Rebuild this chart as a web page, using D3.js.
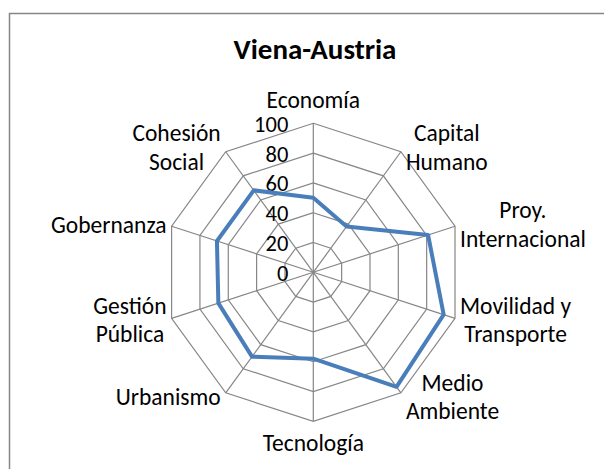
<!DOCTYPE html>
<html>
<head>
<meta charset="utf-8">
<script src="https://cdn.jsdelivr.net/npm/d3@7"></script>
<style>
  body { margin: 0; background: #fff; }
  svg text { font-family: Carlito, Calibri, Lato, sans-serif; fill: #000; }
</style>
</head>
<body>
<div id="chart"></div>
<script>
const title = "Viena-Austria";
const categories = [
  "Economía", "Capital\nHumano", "Proy.\nInternacional", "Movilidad y\nTransporte",
  "Medio\nAmbiente", "Tecnología", "Urbanismo", "Gestión\nPública",
  "Gobernanza", "Cohesión\nSocial"
];
const values = [50, 38, 81, 92, 95, 58, 70, 67, 68, 68];
const ticks = [0, 20, 40, 60, 80, 100];

const width = 604;
const height = 469;
const cx = 313.3;
const cy = 272.3;
const R = 149;
const lineH = 28.5;

const svg = d3
  .select("#chart")
  .append("svg")
  .attr("width", width)
  .attr("height", height);

// chart area border (right and bottom edges fall outside the picture)
svg
  .append("rect")
  .attr("x", 9.5)
  .attr("y", 13.5)
  .attr("width", 620)
  .attr("height", 480)
  .attr("fill", "#fff")
  .attr("stroke", "#868686")
  .attr("stroke-width", 1.5);

svg
  .append("text")
  .attr("x", 315)
  .attr("y", 49)
  .attr("text-anchor", "middle")
  .attr("dominant-baseline", "central")
  .style("font-size", "29px")
  .style("font-weight", "bold")
  .text(title);

const r = d3.scaleLinear().domain([0, 100]).range([0, R]);
const angle = d3
  .scaleLinear()
  .domain([0, categories.length])
  .range([0, 2 * Math.PI]);

const point = (i, v) => [
  cx + r(v) * Math.sin(angle(i)),
  cy - r(v) * Math.cos(angle(i))
];

const grid = svg.append("g").attr("fill", "none").attr("stroke", "#868686").attr("stroke-width", 1.2);

// spokes
grid
  .selectAll("line")
  .data(categories)
  .join("line")
  .attr("x1", cx)
  .attr("y1", cy)
  .attr("x2", (d, i) => point(i, 100)[0])
  .attr("y2", (d, i) => point(i, 100)[1]);

// decagon rings
grid
  .selectAll("path")
  .data(ticks.slice(1))
  .join("path")
  .attr("d", (t) => d3.line()(categories.map((c, i) => point(i, t))) + "Z");

// tick labels
svg
  .append("g")
  .selectAll("text")
  .data(ticks)
  .join("text")
  .attr("x", cx - 25)
  .attr("y", (t) => cy - r(t) + 1)
  .attr("text-anchor", "end")
  .attr("dominant-baseline", "central")
  .style("font-size", "22.5px")
  .text((t) => t);

// series line
svg
  .append("path")
  .attr("d", d3.line()(values.map((v, i) => point(i, v))) + "Z")
  .attr("fill", "none")
  .attr("stroke", "#4a7ebb")
  .attr("stroke-width", 4)
  .attr("stroke-linejoin", "round");

// category labels
const labels = svg.append("g").style("font-size", "23.5px");
categories.forEach((c, i) => {
  const lines = c.split("\n");
  const a = angle(i);
  const s = Math.sin(a);
  const co = Math.cos(a);
  const [vx, vy] = point(i, 100);
  const g = labels.append("g");
  const texts = g
    .selectAll("text")
    .data(lines)
    .join("text")
    .attr("text-anchor", "middle")
    .attr("dominant-baseline", "central")
    .text((d) => d);
  const w = d3.max(texts.nodes(), (n) => n.getComputedTextLength());
  const h = lines.length * lineH;
  let bx = vx;
  let by = vy - co * 5;
  if (Math.abs(s) > 0.1) {
    bx = vx + Math.sign(s) * (5 + w / 2);
  } else {
    by = vy - Math.sign(co) * ((co > 0 ? 9 : 7) + h / 2);
  }
  texts
    .attr("x", bx)
    .attr("y", (d, j) => by + (j - (lines.length - 1) / 2) * lineH);
});
</script>
</body>
</html>
